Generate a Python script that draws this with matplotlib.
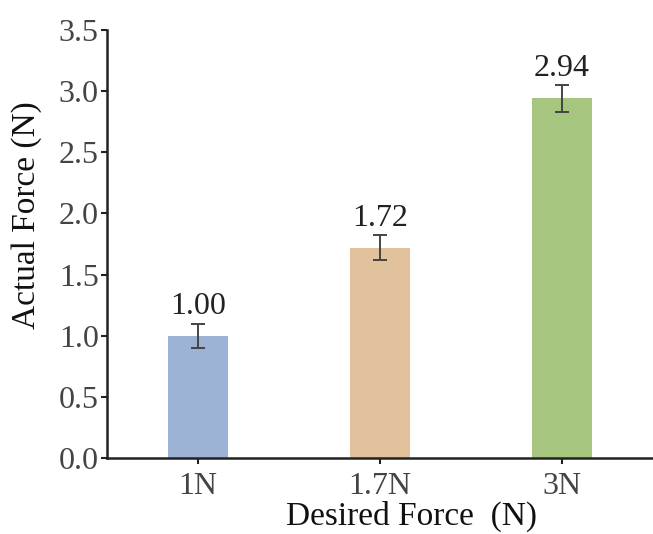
import matplotlib
matplotlib.use("Agg")
import matplotlib.pyplot as plt

# data
categories = ["1N", "1.7N", "3N"]
actual_force = [1.00, 1.72, 2.94]
errors = [0.10, 0.10, 0.11]
bar_colors = ["#9db3d6", "#e1c29d", "#a6c57e"]
y_ticks = [0.0, 0.5, 1.0, 1.5, 2.0, 2.5, 3.0, 3.5]

plt.rcParams["font.family"] = ["Liberation Serif", "DejaVu Serif"]

fig = plt.figure(figsize=(6.53, 5.34), dpi=100)
ax = fig.add_axes([0.164, 0.142, 0.836, 0.802])

x = list(range(len(categories)))
ax.bar(x, actual_force, width=0.33, color=bar_colors,
       yerr=errors, capsize=5,
       error_kw=dict(ecolor="#444444", elinewidth=1.4, capthick=1.4))

# value labels above the error bars
for xi, v, e in zip(x, actual_force, errors):
    ax.text(xi, v + e + 0.02, f"{v:.2f}", ha="center", va="bottom",
            fontsize=23, color="#222222")

ax.set_xlim(-0.5, 2.5)
ax.set_ylim(0, 3.5)
ax.set_xticks(x)
ax.set_xticklabels(categories)
ax.set_yticks(y_ticks)
ax.set_yticklabels([f"{t:.1f}" for t in y_ticks])

ax.tick_params(axis="both", labelsize=23, labelcolor="#444444",
               length=4, width=1.5, color="#222222", direction="out")
ax.tick_params(axis="x", pad=6)
ax.tick_params(axis="y", pad=2)

ax.set_xlabel("Desired Force  (N)", fontsize=24, color="#111111")
ax.set_ylabel("Actual Force (N)", fontsize=24, color="#111111")
# labels sit off-centre in the reference
ax.xaxis.set_label_coords(0.557, -0.099)
ax.yaxis.set_label_coords(-0.12, 0.568)

for side in ["top", "right"]:
    ax.spines[side].set_visible(False)
for side in ["left", "bottom"]:
    ax.spines[side].set_linewidth(1.8)
    ax.spines[side].set_color("#222222")

plt.savefig("out.png", dpi=100)
